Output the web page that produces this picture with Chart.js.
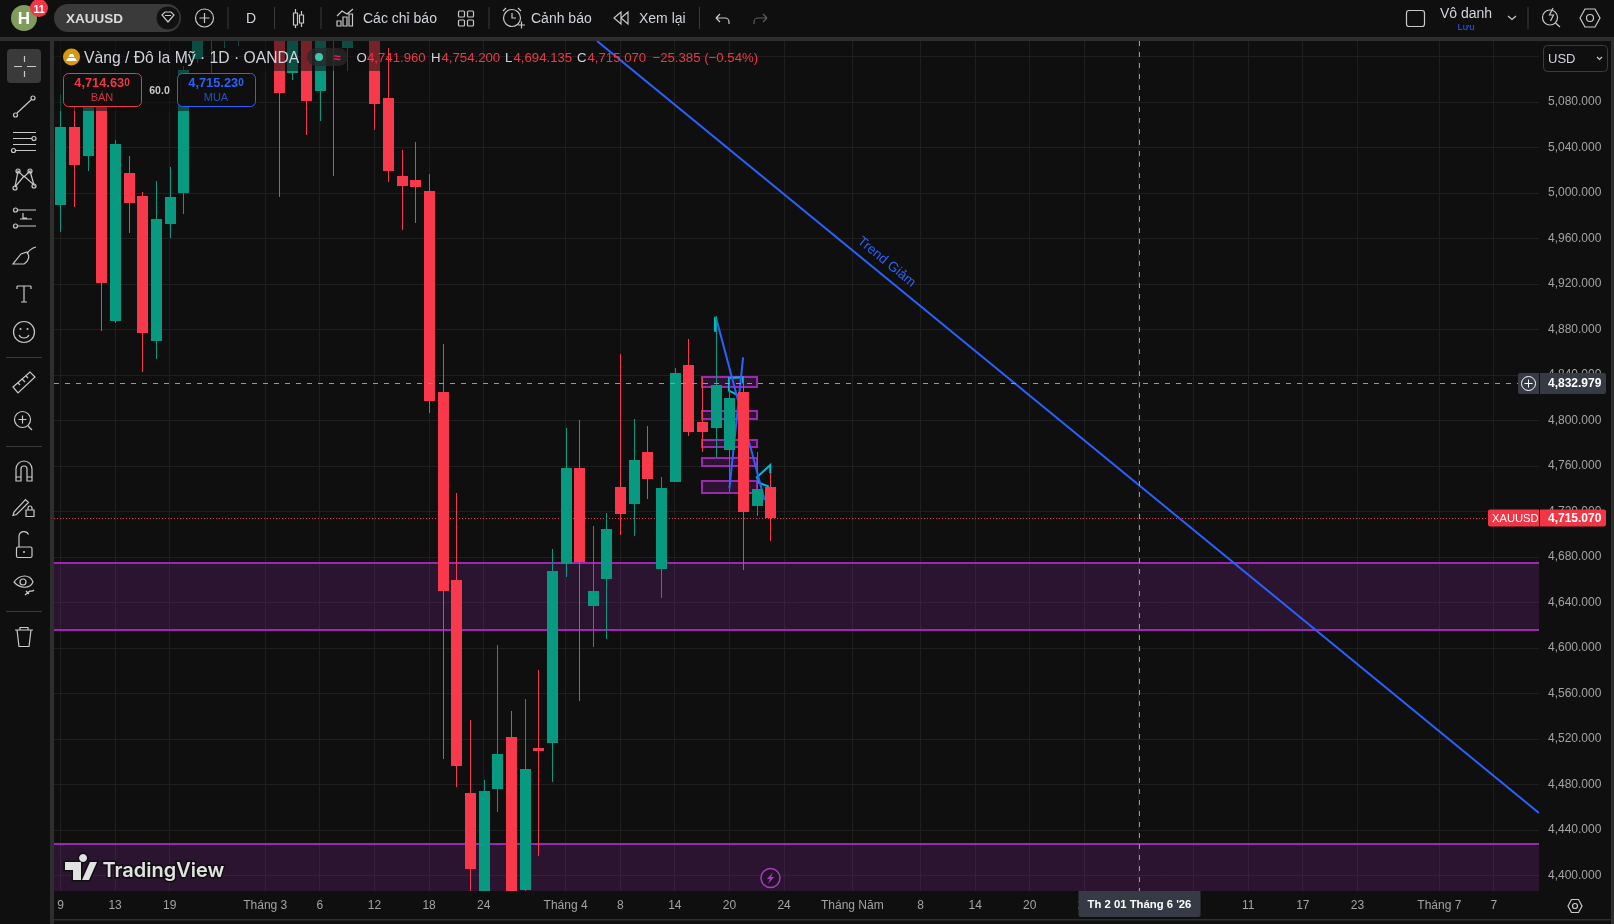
<!DOCTYPE html>
<html>
<head>
<meta charset="utf-8">
<title>XAUUSD</title>
<script src="https://cdn.jsdelivr.net/npm/chart.js@4/dist/chart.umd.min.js"></script>
<style>
  html, body { margin: 0; padding: 0; background: #0f0f0f; overflow: hidden; }
  #wrap { position: relative; width: 1614px; height: 924px; }
  #chart { position: absolute; left: 0; top: 0; }
  #ui { position: absolute; left: 0; top: 0; font-family: "Liberation Sans", Arial, sans-serif; }
  #ui text { dominant-baseline: central; }
  #ui .ic { fill: none; stroke: #c9c9c9; stroke-width: 1.2; }
</style>
</head>
<body>
<div id="wrap">
  <canvas id="chart" width="1614" height="924"></canvas>
  <svg id="ui" width="1614" height="924" xmlns="http://www.w3.org/2000/svg">
    <!-- khung panel -->
    <rect x="0" y="37" width="1614" height="4" fill="#2e2e2e"/>
    <rect x="50" y="37" width="4" height="887" fill="#2e2e2e"/>
    <rect x="1611" y="37" width="3" height="887" fill="#2e2e2e"/>
    <rect x="54" y="919" width="1557" height="1.5" fill="#2e2e2e"/>

    <!-- nền mờ dưới legend -->
    <rect x="54" y="41" width="328" height="30" fill="#0f0f0f" opacity="0.55"/>
    <rect x="54" y="71" width="204" height="40" fill="#0f0f0f" opacity="0.55"/>

    <!-- thanh trên -->
    <circle cx="24" cy="18" r="13" fill="#7f9c5d"/>
    <text x="24" y="18" font-size="17" font-weight="bold" fill="#fff" text-anchor="middle">H</text>
    <circle cx="39" cy="8" r="9" fill="#f23645"/>
    <text x="39" y="8.5" font-size="10.5" font-weight="bold" fill="#fff" text-anchor="middle">11</text>
    <rect x="54" y="4" width="127" height="28" rx="14" fill="#3a3a3a"/>
    <text x="66" y="18" font-size="13.5" font-weight="bold" fill="#dcdcdc">XAUUSD</text>
    <circle cx="168" cy="18" r="12" fill="#111" stroke="#3a3a3a"/>
    <path class="ic" d="M162 15l3-3h6l3 3-6 7zM165 15.5h6"/>
    <circle class="ic" cx="204.5" cy="18" r="9"/>
    <path class="ic" d="M199.5 18h10M204.5 13v10"/>
    <path d="M228 7v22M274.5 7v22M321 7v22M489 7v22M699.5 7v22M1528 7v22" stroke="#3a3a3a" stroke-width="1"/>
    <text x="251" y="18" font-size="14" fill="#d1d4dc" text-anchor="middle">D</text>
    <path class="ic" d="M295.500 13h4v12h-4zM297.500 9v4M297.500 25v3M301.500 15h4v8h-4zM303.500 11v4M303.500 23v4" transform="translate(-2,0)"/>
    <path class="ic" d="M337 26v-5h4v5zM343 26v-9h4v9zM349 26v-12h3.500v12zM337 16l5-5 5 3 6-5"/>
    <text x="363" y="18" font-size="14" fill="#d1d4dc">Các chỉ báo</text>
    <rect class="ic" x="458.500" y="11" width="6" height="6" rx="1"/>
    <rect class="ic" x="467.500" y="11" width="6" height="6" rx="1"/>
    <rect class="ic" x="458.500" y="20" width="6" height="6" rx="1"/>
    <rect class="ic" x="467.500" y="20" width="6" height="6" rx="1"/>
    <circle class="ic" cx="512" cy="18" r="8.500"/>
    <path class="ic" d="M512 13v5h4M503 11l3-3M521 11l-3-3M518 25h7M521.500 21.500v7"/>
    <text x="531" y="18" font-size="14" fill="#d1d4dc">Cảnh báo</text>
    <path class="ic" d="M621 12l-7 6 7 6zM628 12l-7 6 7 6z"/>
    <text x="639" y="18" font-size="14" fill="#d1d4dc">Xem lại</text>
    <path class="ic" d="M716 18h9a4 4 0 0 1 4 4v2M716 18l4-4M716 18l4 4"/>
    <path d="M767 18h-9a4 4 0 0 0-4 4v2M767 18l-4-4M767 18l-4 4" fill="none" stroke="#5c5c5c" stroke-width="1.2"/>
    <rect class="ic" x="1406.500" y="10.500" width="18" height="16" rx="2.500"/>
    <text x="1466" y="13" font-size="14" fill="#d1d4dc" text-anchor="middle">Vô danh</text>
    <text x="1466" y="26" font-size="9.500" fill="#2962ff" text-anchor="middle">Lưu</text>
    <path class="ic" d="M1508 16l4 3.500 4-3.500"/>
    <circle class="ic" cx="1550" cy="17.500" r="7.500"/>
    <path class="ic" d="M1553 8l-3.500 7h4l-3 6M1555.500 23l4.500 4"/>
    <path class="ic" d="M1580 18l5-9h10l5 9-5 9h-10z"/>
    <circle class="ic" cx="1590" cy="18" r="3.500"/>

    <!-- thanh công cụ trái -->
    <rect x="7" y="49" width="34" height="34" rx="4" fill="#3a3a3a"/>
    <path class="ic" d="M24.500 56v6M24.500 71v6M14 66.500h8M27 66.500h9"/>
    <path class="ic" d="M17 113l14-13"/><circle class="ic" cx="15.500" cy="115" r="2"/><circle class="ic" cx="33" cy="98" r="2"/>
    <path class="ic" d="M13 132.500h23M13 138.500h19M13 144.500h23M16 150.500h20"/><circle class="ic" cx="34" cy="138.500" r="2"/><circle class="ic" cx="13.500" cy="150.500" r="2"/>
    <path class="ic" d="M15 187l3-16 6 6 6-6 4 14-10-9z"/><circle class="ic" cx="18" cy="171" r="2"/><circle class="ic" cx="30" cy="171" r="2"/><circle class="ic" cx="15" cy="188" r="2"/><circle class="ic" cx="34" cy="186" r="2"/>
    <path class="ic" d="M18 210h18M20 219h12M18 226h18M23 213v5h4"/><circle class="ic" cx="15.500" cy="210" r="2"/><circle class="ic" cx="15.500" cy="226" r="2"/>
    <path class="ic" d="M13 264h11c5-3 6-8 3-12l-6 2zM27 254c2-4 5-6 9-7"/>
    <path class="ic" d="M17 286h14M17 286v3M31 286v3M24 286v16M21 302h6"/>
    <circle class="ic" cx="24" cy="332" r="10.500"/>
    <path class="ic" d="M19 335c2 4 8 4 10 0"/><circle cx="20.500" cy="329" r="1" fill="#c9c9c9"/><circle cx="27.500" cy="329" r="1" fill="#c9c9c9"/>
    <path d="M6 357.500h36M6 446.500h36M6 611.500h36" stroke="#3a3a3a" stroke-width="1"/>
    <path class="ic" d="M13 387l17-15 5 5-17 16zM18 383l2 2M22 379l3 3M26 376l2 2"/>
    <circle class="ic" cx="22.500" cy="419.500" r="8"/><path class="ic" d="M18.500 419.500h8M22.500 415.500v8M28 426l4 4"/>
    <path class="ic" d="M16 481v-12a8 8 0 0 1 16 0v12h-5v-12a3 3 0 0 0-6 0v12zM16 477h5M27 477h5"/>
    <path class="ic" d="M14 512l-1 3.500 3.500-1 12-12-3-3zM26 510h8v6.500h-8zM28 510v-2a2 2 0 0 1 4 0v2"/>
    <rect class="ic" x="16.500" y="547" width="15.500" height="10.500" rx="1.500"/><path class="ic" d="M19 547v-11a5 5 0 0 1 9.500-1.500"/><circle cx="24" cy="552" r="1" fill="#c9c9c9"/>
    <path class="ic" d="M14 582c6-8 16-8 19 0-3 7-13 7-19 0z"/><circle class="ic" cx="23" cy="582" r="3"/><path class="ic" d="M25 595c2-2 4-3 5-4 2 0 2 1 4-1M29 594l-3-3"/>
    <path class="ic" d="M15 630h18M20 630v-2.500h8v2.500M17 630l2 16.500h10l2-16.500"/>

    <!-- legend -->
    <circle cx="71.500" cy="57" r="8.500" fill="#d99a0a"/>
    <path d="M66 61l2-3h7l2 3zM68.500 57l1.500-3h3l1.500 3z" fill="#fff"/>
    <text x="84" y="57" font-size="15.700" fill="#d1d4dc">Vàng / Đô la Mỹ · 1D · OANDA</text>
    <rect x="307" y="48" width="41" height="18" rx="9" fill="#2a2a2a" opacity="0.75"/>
    <circle cx="319" cy="57" r="4" fill="#45c4a8"/>
    <text x="337" y="57" font-size="13" font-weight="bold" fill="#e91e63" text-anchor="middle">≈</text>
    <g font-size="13.200">
      <text x="356.500" y="57.500" fill="#d1d4dc">O</text><text x="367" y="57.500" fill="#f23645">4,741.960</text>
      <text x="431" y="57.500" fill="#d1d4dc">H</text><text x="441.500" y="57.500" fill="#f23645">4,754.200</text>
      <text x="505" y="57.500" fill="#d1d4dc">L</text><text x="513.500" y="57.500" fill="#f23645">4,694.135</text>
      <text x="577" y="57.500" fill="#d1d4dc">C</text><text x="587.500" y="57.500" fill="#f23645">4,715.070</text>
      <text x="652.500" y="57.500" fill="#f23645">−25.385 (−0.54%)</text>
    </g>

    <!-- nút mua bán -->
    <rect x="63.500" y="73.500" width="78" height="33" rx="5" fill="#0f0f0f" stroke="#f23645"/>
    <text x="102" y="82.500" font-size="12.800" font-weight="bold" fill="#f23645" text-anchor="middle">4,714.63<tspan font-size="10" dy="-1">0</tspan></text>
    <text x="102" y="97" font-size="11" fill="#d7303e" text-anchor="middle">BÁN</text>
    <text x="159.500" y="89.500" font-size="10.500" font-weight="bold" fill="#c9c9c9" text-anchor="middle">60.0</text>
    <rect x="177.500" y="73.500" width="78" height="33" rx="5" fill="#0f0f0f" stroke="#2962ff"/>
    <text x="216" y="82.500" font-size="12.800" font-weight="bold" fill="#2962ff" text-anchor="middle">4,715.23<tspan font-size="10" dy="-1">0</tspan></text>
    <text x="216" y="97" font-size="11" fill="#2450c8" text-anchor="middle">MUA</text>

    <!-- hộp đơn vị tiền -->
    <rect x="1543.500" y="45.500" width="64" height="26" rx="4" fill="#0f0f0f" stroke="#3c3c3c"/>
    <text x="1548" y="58" font-size="13" fill="#d1d4dc">USD</text>
    <path class="ic" d="M1597 57l2.500 2.500 2.500-2.500"/>

    <!-- logo -->
    <g fill="#e2e2e2" stroke="#0f0f0f" stroke-width="3" paint-order="stroke">
      <path d="M65 862h16v18h-8v-10h-8zM83 862a4 4 0 1 1 0.100 0zM90 862h7l-8 18h-7z"/>
      <text x="102.500" y="869.500" font-family="Inter" font-size="20" font-weight="600">TradingView</text>
    </g>
    <circle cx="770.500" cy="878" r="9.500" fill="#24122b" stroke="#a83cbe" stroke-width="1.500"/>
    <path d="M773 872l-6 7h3l-2 5 6-7h-3z" fill="#a83cbe"/>

    <!-- nút cài đặt trục -->
    <path class="ic" d="M1568 906l3.500-6.500h7l3.500 6.500-3.500 6.500h-7z"/>
    <circle class="ic" cx="1575" cy="906" r="2.500"/>
  </svg>
</div>

<script>
// OHLC theo ngày, chỉ số 0 là ngày 9 tháng 2
const openPrices = [
    4989.7, 5058.3, 5032.8, 5082.0, 4887.8, 5017.9, 4997.6, 4870.2, 4973.0, 4999.9,
    5118.0, 5180.0, 5140.0, 5145.0, 5170.0, 5155.0, 5150.0, 5106.0, 5145.0, 5090.2,
    5180.0, 5127.7, 5170.0, 5160.0, 5083.8, 5015.2, 5011.7, 5002.0, 4825.4, 4660.2,
    4472.9, 4374.5, 4476.5, 4522.2, 4387.7, 4512.5, 4516.9, 4674.5, 4758.6, 4637.3,
    4661.0, 4741.9, 4727.0, 4772.6, 4669.8, 4746.3, 4849.1, 4799.0, 4793.7, 4774.4,
    4825.4, 4725.2, 4741.96
];
const highPrices = [
    5087.3, 5077.6, 5086.4, 5088.2, 5046.9, 5032.8, 5001.2, 5010.8, 5023.1, 5111.9,
    5170.0, 5200.0, 5195.0, 5190.0, 5180.0, 5190.0, 5165.0, 5155.0, 5160.0, 5165.0,
    5190.0, 5175.0, 5180.0, 5175.0, 5127.7, 5038.1, 5045.1, 5017.0, 4867.6, 4736.6,
    4537.1, 4484.4, 4603.0, 4545.0, 4555.6, 4581.1, 4687.4, 4793.7, 4800.8, 4707.6,
    4719.0, 4858.8, 4801.7, 4795.5, 4750.7, 4846.5, 4872.0, 4838.6, 4892.2, 4838.6,
    4838.6, 4772.6, 4754.2
];
const lowPrices = [
    4966.3, 4988.2, 5019.9, 4879.2, 4886.0, 4965.4, 4843.2, 4854.4, 4960.7, 4981.8,
    5115.0, 5105.7, 5127.7, 5129.5, 5140.0, 5140.0, 4997.0, 5100.0, 5051.5, 5063.8,
    5015.5, 5107.5, 5140.0, 5055.9, 5010.0, 4967.8, 4973.9, 4806.9, 4502.8, 4478.5,
    4378.9, 4368.0, 4456.2, 4368.0, 4385.0, 4417.6, 4482.6, 4662.8, 4553.8, 4601.3,
    4608.3, 4699.7, 4698.8, 4731.3, 4644.3, 4746.0, 4786.7, 4772.6, 4768.3, 4737.5,
    4669.0, 4716.4, 4694.135
];
const closePrices = [
    5058.3, 5024.9, 5082.0, 4921.4, 5043.3, 4991.5, 4877.2, 4977.4, 4996.8, 5108.4,
    5160.0, 5150.0, 5180.0, 5175.0, 5155.0, 5175.0, 5088.4, 5145.0, 5081.4, 5150.0,
    5145.0, 5165.0, 5150.0, 5078.8, 5019.9, 5006.4, 5005.6, 4817.5, 4650.7, 4496.9,
    4406.1, 4474.7, 4507.2, 4374.5, 4494.0, 4509.9, 4668.0, 4758.6, 4676.0, 4650.5,
    4705.0, 4718.2, 4765.6, 4748.9, 4741.0, 4842.1, 4790.2, 4790.2, 4831.5, 4820.0,
    4719.9, 4740.5, 4715.07
];

// vạch thời gian trên trục x
const tickIndex = [0, 4, 8, 15, 19, 23, 27, 31, 37, 41, 45, 49, 53, 58, 63, 67, 71, 75, 79, 83, 87, 91, 95, 101, 105];
const tickText = ['9', '13', '19', 'Tháng 3', '6', '12', '18', '24', 'Tháng 4', '8', '14', '20', '24', 'Tháng Năm', '8', '14', '20', '26', '', '5', '11', '17', '23', 'Tháng 7', '7'];

const priceMin = 4386.8;
const priceMax = 5133.9;
const indexMin = -0.476;
const indexMax = 108.3;

const lastPrice = 4715.07;
const crossPrice = 4832.979;
const crossIndex = 79;
const crossDate = "Th 2 01 Tháng 6 '26";

// vùng cung cầu lớn [giá trên, giá dưới]
const bigZones = [[4675.4, 4616.2], [4428.1, 4350.0]];
// các hộp nhỏ quanh đỉnh [giá trên, giá dưới]
const smallBoxes = [[4838.6, 4830.0], [4808.7, 4801.6], [4782.9, 4777.3], [4767.4, 4760.6], [4747.2, 4736.6]];
const boxFrom = 47.02;
const boxTo = 51.02;

// đường xu hướng và nhãn của nó
const trendLine = [{ x: 39.3, y: 5133.9 }, { x: 108.3, y: 4455.4 }];
const trendLabel = { x: 60.5, y: 4939.6, text: 'Trend Giảm' };

// nét vẽ tay quanh đỉnh
const blueStrokeA = [{ x: 48, y: 4891.6 }, { x: 51.57, y: 4730.4 }];
const blueStrokeB = [{ x: 50, y: 4855.9 }, { x: 49, y: 4740.7 }];
const cyanStrokeA = [{ x: 47.94, y: 4891.6 }, { x: 47.94, y: 4878.4 }];
const cyanStrokeB = [{ x: 49.62, y: 4822.7 }, { x: 48.96, y: 4826.5 }, { x: 48.96, y: 4837.7 }, { x: 49.99, y: 4838.3 }, { x: 49.99, y: 4833.0 }];
const cyanStrokeC = [{ x: 51.99, y: 4753.9 }, { x: 51.99, y: 4761.2 }, { x: 51.01, y: 4750.4 }, { x: 51.16, y: 4745.7 }, { x: 51.89, y: 4742.2 }];

const upColor = '#089981';
const downColor = '#f7394b';
const zoneStroke = '#9c27b0';
const zoneFill = 'rgba(156, 39, 176, 0.2)';
const tagColor = '#363a45';
const tagRed = '#f23645';
const uiFont = '"Liberation Sans", Arial, sans-serif';

const candleColors = closePrices.map((c, i) => (c >= openPrices[i] ? upColor : downColor));
const bodies = closePrices.map((c, i) => ({ x: i, y: [openPrices[i], c] }));
const wicks = closePrices.map((c, i) => ({ x: i, y: [lowPrices[i], highPrices[i]] }));

function strokeSet(label, data, color) {
    return {
        type: 'line',
        label: label,
        data: data,
        borderColor: color,
        borderWidth: 2,
        pointRadius: 0,
        tension: 0,
        fill: false,
        order: 3,
    };
}

function formatPrice(v) {
    return v.toLocaleString('en-US', { minimumFractionDigits: 3, maximumFractionDigits: 3 });
}

// đưa nến về lưới pixel để cạnh thân nến và bóng nến không bị nhòe
const snapCandles = {
    id: 'snapCandles',
    afterDatasetsUpdate(chart) {
        chart.data.datasets.forEach((ds, idx) => {
            if (ds.type !== 'bar') return;
            chart.getDatasetMeta(idx).data.forEach(el => {
                el.x = Math.floor(el.x + 0.4) + 0.5;
                el.y = Math.round(el.y);
                el.base = Math.round(el.base);
            });
        });
    },
};

// vùng giá và đường giá hiện tại nằm dưới nến
const zonesBehind = {
    id: 'zonesBehind',
    beforeDatasetsDraw(chart) {
        const { ctx, chartArea: area, scales: { x, y } } = chart;
        ctx.save();
        ctx.beginPath();
        ctx.rect(area.left, area.top, area.right - area.left, area.bottom - area.top);
        ctx.clip();

        bigZones.forEach(([top, bottom]) => {
            const y1 = Math.round(y.getPixelForValue(top));
            const y2 = Math.round(y.getPixelForValue(bottom));
            ctx.fillStyle = zoneFill;
            ctx.fillRect(area.left, y1, area.right - area.left, y2 - y1);
            ctx.fillStyle = zoneStroke;
            ctx.fillRect(area.left, y1 - 1, area.right - area.left, 2);
            ctx.fillRect(area.left, y2 - 1, area.right - area.left, 2);
        });

        smallBoxes.forEach(([top, bottom]) => {
            const x1 = Math.round(x.getPixelForValue(boxFrom));
            const x2 = Math.round(x.getPixelForValue(boxTo));
            const y1 = Math.round(y.getPixelForValue(top));
            const y2 = Math.round(y.getPixelForValue(bottom));
            ctx.fillStyle = zoneFill;
            ctx.fillRect(x1, y1, x2 - x1, y2 - y1);
            ctx.strokeStyle = zoneStroke;
            ctx.lineWidth = 2;
            ctx.strokeRect(x1, y1, x2 - x1, y2 - y1);
        });

        const py = Math.round(y.getPixelForValue(lastPrice)) + 0.5;
        ctx.strokeStyle = tagRed;
        ctx.lineWidth = 1;
        ctx.setLineDash([1, 2]);
        ctx.beginPath();
        ctx.moveTo(area.left, py);
        ctx.lineTo(area.right, py);
        ctx.stroke();
        ctx.restore();
    },
};

// con trỏ chữ thập, nhãn trên trục và chữ của đường xu hướng
const overlays = {
    id: 'overlays',
    afterDraw(chart) {
        const { ctx, chartArea: area, scales: { x, y } } = chart;
        const cx = Math.round(x.getPixelForValue(crossIndex)) + 0.5;
        const cy = Math.round(y.getPixelForValue(crossPrice)) + 0.5;
        const py = Math.round(y.getPixelForValue(lastPrice));

        ctx.save();
        ctx.strokeStyle = '#9598a1';
        ctx.lineWidth = 1;
        ctx.setLineDash([5, 6]);
        ctx.beginPath();
        ctx.moveTo(cx, area.top);
        ctx.lineTo(cx, area.bottom);
        ctx.moveTo(area.left, cy);
        ctx.lineTo(area.right - 21, cy);
        ctx.stroke();
        ctx.setLineDash([]);

        ctx.translate(x.getPixelForValue(trendLabel.x), y.getPixelForValue(trendLabel.y));
        ctx.rotate(39.3 * Math.PI / 180);
        ctx.fillStyle = '#2962ff';
        ctx.font = '13.5px ' + uiFont;
        ctx.textAlign = 'center';
        ctx.textBaseline = 'middle';
        ctx.fillText(trendLabel.text, 0, 0);
        ctx.restore();

        ctx.save();
        ctx.textBaseline = 'middle';
        ctx.font = 'bold 12px ' + uiFont;
        ctx.textAlign = 'left';

        // nhãn giá tại con trỏ
        ctx.fillStyle = tagColor;
        ctx.beginPath();
        ctx.roundRect(area.right - 21, cy - 10.5, 21, 21, [2, 0, 0, 2]);
        ctx.roundRect(area.right + 1, cy - 10.5, 66, 21, [0, 2, 2, 0]);
        ctx.fill();
        ctx.fillStyle = '#fff';
        ctx.fillText(formatPrice(crossPrice), area.right + 9, cy + 0.5);
        ctx.strokeStyle = '#fff';
        ctx.lineWidth = 1;
        ctx.beginPath();
        ctx.arc(area.right - 10.5, cy, 7, 0, Math.PI * 2);
        ctx.moveTo(area.right - 14.5, cy);
        ctx.lineTo(area.right - 6.5, cy);
        ctx.moveTo(area.right - 10.5, cy - 4);
        ctx.lineTo(area.right - 10.5, cy + 4);
        ctx.stroke();

        // nhãn giá đóng cửa
        ctx.fillStyle = tagRed;
        ctx.beginPath();
        ctx.roundRect(area.right - 51, py - 8.5, 51, 17, [2, 0, 0, 2]);
        ctx.roundRect(area.right + 1, py - 8.5, 66, 17, [0, 2, 2, 0]);
        ctx.fill();
        ctx.fillStyle = '#fff';
        ctx.fillText(formatPrice(lastPrice), area.right + 9, py + 0.5);
        ctx.font = '11.2px ' + uiFont;
        ctx.fillText('XAUUSD', area.right - 47, py + 0.5);

        // nhãn ngày tại con trỏ
        ctx.fillStyle = tagColor;
        ctx.beginPath();
        ctx.roundRect(cx - 61, area.bottom, 122, 26, [0, 0, 2, 2]);
        ctx.fill();
        ctx.fillStyle = '#fff';
        ctx.font = 'bold 11.3px ' + uiFont;
        ctx.textAlign = 'center';
        ctx.fillText(crossDate, cx, area.bottom + 14);
        ctx.restore();
    },
};

const chart = new Chart(document.getElementById('chart'), {
    type: 'bar',
    data: {
        datasets: [
            {
                type: 'bar',
                label: 'Thân nến',
                data: bodies,
                backgroundColor: candleColors,
                barThickness: 11,
                inflateAmount: 0,
                borderWidth: 0,
                order: 1,
            },
            {
                type: 'bar',
                label: 'Bóng nến',
                data: wicks,
                backgroundColor: candleColors,
                barThickness: 1,
                inflateAmount: 0,
                borderWidth: 0,
                order: 2,
            },
            strokeSet('Trend Giảm', trendLine, '#2962ff'),
            strokeSet('Nét xanh 1', blueStrokeA, '#2962ff'),
            strokeSet('Nét xanh 2', blueStrokeB, '#2962ff'),
            strokeSet('Nét lam 1', cyanStrokeA, '#00bcd4'),
            strokeSet('Nét lam 2', cyanStrokeB, '#00bcd4'),
            strokeSet('Nét lam 3', cyanStrokeC, '#00bcd4'),
        ],
    },
    options: {
        responsive: false,
        animation: false,
        events: [],
        datasets: { bar: { grouped: false } },
        layout: { padding: { left: 54, top: 41, right: 0, bottom: 0 } },
        plugins: {
            legend: { display: false },
            tooltip: { enabled: false },
        },
        scales: {
            x: {
                type: 'linear',
                offset: false,
                min: indexMin,
                max: indexMax,
                border: { display: false },
                grid: { offset: false, color: '#1f1f1f', drawTicks: false },
                afterBuildTicks: (axis) => {
                    axis.ticks = tickIndex.map(v => ({ value: v }));
                },
                afterFit: (axis) => { axis.height = 33; },
                ticks: {
                    autoSkip: false,
                    maxRotation: 0,
                    padding: 7,
                    color: '#a3a3a3',
                    font: { family: uiFont, size: 12 },
                    callback: (value) => tickText[tickIndex.indexOf(value)],
                },
            },
            y: {
                position: 'right',
                min: priceMin,
                max: priceMax,
                border: { display: false },
                grid: { color: '#1f1f1f', drawTicks: false },
                afterFit: (axis) => { axis.width = 75; },
                ticks: {
                    stepSize: 40,
                    includeBounds: false,
                    padding: 9,
                    labelOffset: -0.5,
                    color: '#a3a3a3',
                    font: { family: uiFont, size: 12 },
                    callback: (value) => formatPrice(value),
                },
            },
        },
    },
    plugins: [snapCandles, zonesBehind, overlays],
});
</script>
</body>
</html>
